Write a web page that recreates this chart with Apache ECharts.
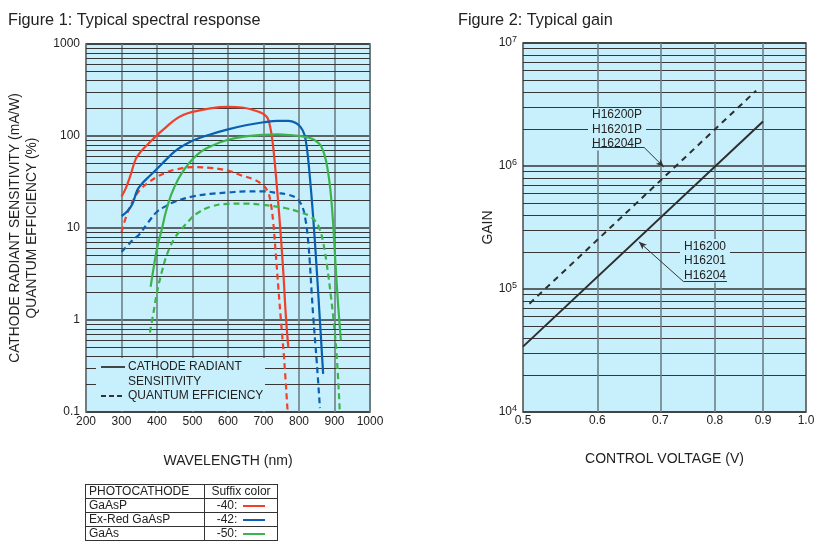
<!DOCTYPE html>
<html>
<head>
<meta charset="utf-8">
<script src="https://cdn.jsdelivr.net/npm/echarts@6/dist/echarts.min.js"></script>
<style>
  html, body { margin: 0; padding: 0; background: #fff; }
  #chart { position: absolute; left: 0; top: 0; width: 820px; height: 560px; }
  #tbl { position: absolute; left: 85px; top: 484px; border-collapse: collapse;
         font: 12px 'Liberation Sans', Arial, sans-serif; color: #222; }
  #tbl td { border: 1px solid #333; padding: 0 3px; height: 13px; line-height: 13px; white-space: nowrap; }
  #tbl td.c2 { text-align: center; }
  .sw { display: inline-block; width: 22px; height: 2px; vertical-align: middle; margin-left: 6px; }
</style>
</head>
<body>
<div id="chart"></div>
<table id="tbl">
  <tr><td style="width:112px">PHOTOCATHODE</td><td class="c2" style="width:66px">Suffix color</td></tr>
  <tr><td>GaAsP</td><td class="c2">-40:<span class="sw" style="background:#f0402a"></span></td></tr>
  <tr><td>Ex-Red GaAsP</td><td class="c2">-42:<span class="sw" style="background:#0a5fb0"></span></td></tr>
  <tr><td>GaAs</td><td class="c2">-50:<span class="sw" style="background:#3cb44b"></span></td></tr>
</table>
<script>
// ---------- Figure 1 data: [wavelength nm, value] ----------
const gaAsP_CRS = [[300,22],[312,27],[325,37],[340,56],[355,68],[375,82],[400,102],[425,124],[450,150],[475,170],[500,183],[550,200],[600,207],[640,204],[670,192],[695,178],[710,160],[718,130],[725,90],[732,50],[740,22],[748,9],[756,3.2],[763,1.1],[770,0.5]];
const gaAsP_QE = [[300,9],[315,14],[330,19],[350,25.5],[375,31],[400,36],[425,40],[450,43],[500,46],[550,45],[600,42],[640,37],[670,34],[695,30],[712,25],[720,19],[727,12],[735,5],[742,2.2],[749,1],[758,0.38],[768,0.1]];
const exRed_CRS = [[300,13.5],[315,15],[330,18],[345,26],[360,31],[380,37],[400,44],[425,55],[450,68],[475,79],[500,89],[550,104],[600,118],[650,131],[700,141],[740,146],[770,146],[790,139],[805,124],[815,104],[822,75],[830,38],[840,13],[850,3.5],[857,1.3],[868,0.26]];
const exRed_QE = [[300,5.5],[315,6.3],[330,7.3],[350,8.5],[375,11.5],[400,15],[425,17.3],[450,19.3],[500,22],[550,23.5],[600,24.3],[650,25],[700,25],[740,24],[770,23],[790,21.5],[803,19],[812,16],[818,12.5],[824,8.5],[830,4.5],[835,2.2],[840,1.1],[850,0.35],[859,0.11]];
const gaAs_CRS = [[382,2.3],[392,4],[400,6],[413,9.5],[425,15],[440,23],[460,34],[480,45],[500,56],[525,68],[550,77],[600,91],[650,99],[700,103],[740,104],[780,102],[810,99],[835,94],[850,87],[862,78],[872,62],[880,45],[888,27],[895,13],[903,4],[910,1.5],[918,0.6]];
const gaAs_QE = [[380,0.73],[390,1.2],[400,2],[415,3.5],[430,5.4],[450,7.8],[470,9.8],[490,12],[510,14.2],[550,17],[600,18.3],[650,18.4],[700,17.8],[760,16.5],[800,15],[830,13.5],[845,12],[858,9.8],[868,7],[878,4.1],[890,1.8],[901,0.72],[908,0.32],[915,0.1]];

// ---------- Figure 2 data: [control voltage V, gain] ----------
const gainStandard = [[0.5,3.4e4],[0.9,2.3e6]];
const gainP = [[0.508,7.6e4],[0.885,4.1e6]];

// ---------- ticks / labels ----------
const voltageTicks = [0.5,0.6,0.7,0.8,0.9,1.0];
const minorMultipliers = [2,3,4,5,6,7,8,9];
const spectralDecades = [0.1,1,10,100];
const gainDecades = [1e4,1e5,1e6];
const seriesNamesStd = ['H16200','H16201','H16204'];
const seriesNamesP = ['H16200P','H16201P','H16204P'];

const RED = '#f0402a', BLUE = '#0a5fb0', GREEN = '#3cb44b';
const BG = '#c8f0fc';
const FONT = "'Liberation Sans', Arial, sans-serif";
const DARK = '#363636', GRAY = '#6f8087';

function minorLines(decades) {
  const out = [];
  decades.forEach(d => minorMultipliers.forEach(m => out.push({ yAxis: +(d * m).toPrecision(3) })));
  return out;
}

const chart = echarts.init(document.getElementById('chart'), null, { renderer: 'canvas' });

function curve(name, data, color, dashed) {
  return {
    name, type: 'line', xAxisIndex: 0, yAxisIndex: 0, data,
    smooth: 0.4, showSymbol: false, symbol: 'none', z: 2,
    lineStyle: { color, width: 2.2, type: dashed ? [6, 4] : 'solid' }
  };
}

const option = {
  animation: false,
  textStyle: { fontFamily: FONT },
  title: [
    { text: 'Figure 1: Typical spectral response', left: 3, top: 8,
      textStyle: { fontSize: 16.3, fontWeight: 'normal', color: '#222', fontFamily: FONT } },
    { text: 'Figure 2: Typical gain', left: 453, top: 8,
      textStyle: { fontSize: 16.3, fontWeight: 'normal', color: '#222', fontFamily: FONT } }
  ],
  grid: [
    { left: 86, top: 44, width: 284, height: 368, show: true, backgroundColor: BG, borderColor: '#4a4a4a', borderWidth: 1.5, containLabel: false },
    { left: 523, top: 43, width: 283, height: 369, show: true, backgroundColor: BG, borderColor: '#4a4a4a', borderWidth: 1.5, containLabel: false }
  ],
  xAxis: [
    { type: 'value', gridIndex: 0, min: 200, max: 1000, interval: 100,
      name: 'WAVELENGTH (nm)', nameLocation: 'middle', nameGap: 42,
      nameTextStyle: { fontSize: 14, color: '#222', fontFamily: FONT },
      axisLine: { show: false }, axisTick: { show: false },
      axisLabel: { fontSize: 12, color: '#222', margin: 4, fontFamily: FONT, formatter: v => String(v) },
      splitLine: { show: true, lineStyle: { color: GRAY, width: 1.6 } } },
    { type: 'log', gridIndex: 1, min: 0.5, max: 1.0, logBase: 10,
      name: 'CONTROL VOLTAGE (V)', nameLocation: 'middle', nameGap: 40,
      nameTextStyle: { fontSize: 14, color: '#222', fontFamily: FONT },
      axisLine: { show: false }, axisTick: { show: false },
      axisLabel: { show: false }, splitLine: { show: false } }
  ],
  yAxis: [
    { type: 'log', gridIndex: 0, min: 0.1, max: 1000, logBase: 10,
      name: 'CATHODE RADIANT SENSITIVITY (mA/W)\nQUANTUM EFFICIENCY (%)',
      nameLocation: 'middle', nameGap: 45,
      nameTextStyle: { fontSize: 13.8, color: '#222', lineHeight: 17, align: 'center', fontFamily: FONT },
      axisLine: { show: false }, axisTick: { show: false },
      axisLabel: { fontSize: 12, color: '#222', margin: 6, fontFamily: FONT,
        formatter: v => (v < 1 ? v.toFixed(1) : String(Math.round(v))) },
      splitLine: { show: true, lineStyle: { color: DARK, width: 1.5 } } },
    { type: 'log', gridIndex: 1, min: 1e4, max: 1e7, logBase: 10,
      name: 'GAIN', nameLocation: 'middle', nameGap: 25,
      nameTextStyle: { fontSize: 14, color: '#222', fontFamily: FONT },
      axisLine: { show: false }, axisTick: { show: false },
      axisLabel: { margin: 6, fontFamily: FONT,
        formatter: v => '{b|10}{s|' + Math.round(Math.log10(v)) + '}',
        rich: { b: { fontSize: 12, color: '#222', fontFamily: FONT },
                s: { fontSize: 9, color: '#222', verticalAlign: 'top', padding: [0, 0, 6, 0], fontFamily: FONT } } },
      splitLine: { show: true, lineStyle: { color: DARK, width: 1.5 } } }
  ],
  series: [
    // minor grid lines, figure 1
    { type: 'line', xAxisIndex: 0, yAxisIndex: 0, data: [], silent: true,
      markLine: { silent: true, symbol: 'none', z: 1, animation: false, label: { show: false },
        lineStyle: { color: DARK, width: 1.2, type: 'solid' }, data: minorLines(spectralDecades) } },
    curve('GaAsP CRS', gaAsP_CRS, RED, false),
    curve('GaAsP QE', gaAsP_QE, RED, true),
    curve('Ex-Red GaAsP CRS', exRed_CRS, BLUE, false),
    curve('Ex-Red GaAsP QE', exRed_QE, BLUE, true),
    curve('GaAs CRS', gaAs_CRS, GREEN, false),
    curve('GaAs QE', gaAs_QE, GREEN, true),
    // minor grid lines, figure 2
    { type: 'line', xAxisIndex: 1, yAxisIndex: 1, data: [], silent: true,
      markLine: { silent: true, symbol: 'none', z: 1, animation: false, label: { show: false },
        lineStyle: { color: DARK, width: 1.2, type: 'solid' }, data: minorLines(gainDecades) } },
    // vertical grid lines + voltage tick labels, figure 2
    { type: 'line', xAxisIndex: 1, yAxisIndex: 1, data: [], silent: true,
      markLine: { silent: true, symbol: 'none', z: 1, animation: false,
        label: { show: true, position: 'start', distance: 3, color: '#222', fontSize: 12, fontFamily: FONT,
          formatter: p => p.value.toFixed(1) },
        lineStyle: { color: GRAY, width: 1.6, type: 'solid' },
        data: voltageTicks.map((v, i) => (i === 0 || i === voltageTicks.length - 1)
          ? { xAxis: v, lineStyle: { color: 'rgba(0,0,0,0)' } } : { xAxis: v }) } },
    { name: seriesNamesStd.join('/'), type: 'line', xAxisIndex: 1, yAxisIndex: 1, data: gainStandard,
      showSymbol: false, symbol: 'none', z: 2, lineStyle: { color: '#2e2e2e', width: 2 } },
    { name: seriesNamesP.join('/'), type: 'line', xAxisIndex: 1, yAxisIndex: 1, data: gainP,
      showSymbol: false, symbol: 'none', z: 2, lineStyle: { color: '#2e2e2e', width: 2, type: [6, 5] } },
    // annotation leaders, figure 2
    { type: 'line', xAxisIndex: 1, yAxisIndex: 1, data: [], silent: true,
      markLine: { silent: true, z: 4, animation: false, label: { show: false },
        symbol: ['none', 'arrow'], symbolSize: [5, 8],
        lineStyle: { color: '#333', width: 1, type: 'solid' },
        data: [
          [{ coord: [0.592, 1.41e6], symbol: 'none' }, { coord: [0.673, 1.41e6], symbol: 'none' }],
          [{ coord: [0.673, 1.41e6] }, { coord: [0.706, 9.8e5] }],
          [{ coord: [0.741, 1.146e5], symbol: 'none' }, { coord: [0.824, 1.146e5], symbol: 'none' }],
          [{ coord: [0.741, 1.146e5] }, { coord: [0.664, 2.42e5] }]
        ] } }
  ],
  graphic: [
    // legend box inside figure 1
    { type: 'rect', z: 3, shape: { x: 96, y: 358, width: 169, height: 53 }, style: { fill: BG } },
    { type: 'line', z: 4, shape: { x1: 101, y1: 367, x2: 125, y2: 367 }, style: { stroke: '#333', lineWidth: 1.8 } },
    { type: 'line', z: 4, shape: { x1: 101, y1: 396, x2: 125, y2: 396 }, style: { stroke: '#333', lineWidth: 1.8, lineDash: [5, 3] } },
    { type: 'text', z: 4, style: { x: 128, y: 367, text: 'CATHODE RADIANT', fill: '#222', fontSize: 12, fontFamily: FONT, verticalAlign: 'middle' } },
    { type: 'text', z: 4, style: { x: 128, y: 382, text: 'SENSITIVITY', fill: '#222', fontSize: 12, fontFamily: FONT, verticalAlign: 'middle' } },
    { type: 'text', z: 4, style: { x: 128, y: 396, text: 'QUANTUM EFFICIENCY', fill: '#222', fontSize: 12, fontFamily: FONT, verticalAlign: 'middle' } },
    // annotation texts, figure 2
    { type: 'text', z: 3, style: { x: 588, y: 108, text: seriesNamesP.join('\n'), fill: '#222', fontSize: 12, lineHeight: 14.2,
      fontFamily: FONT, verticalAlign: 'top', backgroundColor: BG, padding: [0, 4, 0, 4] } },
    { type: 'text', z: 3, style: { x: 680, y: 239, text: seriesNamesStd.join('\n'), fill: '#222', fontSize: 12, lineHeight: 14.5,
      fontFamily: FONT, verticalAlign: 'top', backgroundColor: BG, padding: [0, 4, 0, 4] } }
  ]
};
chart.setOption(option);
</script>
</body>
</html>
